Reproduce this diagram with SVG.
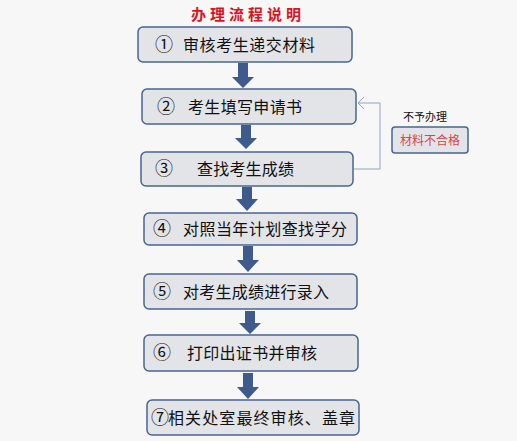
<svg xmlns="http://www.w3.org/2000/svg" width="517" height="441" viewBox="0 0 517 441">
<style>
.box{fill:#e3e4e8;stroke:#4a6491;stroke-width:1.5}
.t{font-family:"Noto Sans CJK SC","Noto Sans",sans-serif;font-size:16px;fill:#111}
.n{font-family:"Noto Sans CJK SC","DejaVu Sans",sans-serif;font-size:18px;fill:#111}
.arr{fill:#3f5b8b}
</style>
<rect width="517" height="441" fill="#f7f7f7"/>
<text x="248" y="20" text-anchor="middle" font-family="'Noto Sans CJK SC',sans-serif" font-size="15" font-weight="bold" fill="#e0111f" letter-spacing="4">办理流程说明</text>
<g id="connectors">
<polygon class="arr" points="238,63 248,63 248,77 254,77 243,88 232,77 238,77"/>
<polygon class="arr" points="241,125 251,125 251,138 257,138 246,149 235,138 241,138"/>
<polygon class="arr" points="242,187 252,187 252,199 258,199 247,211 236,199 242,199"/>
<polygon class="arr" points="243,246 253,246 253,260 259,260 248,272 237,260 243,260"/>
<polygon class="arr" points="245,311 255,311 255,323 261,323 250,334 239,323 245,323"/>
<polygon class="arr" points="243,373 253,373 253,387 259,387 248,399 237,387 243,387"/>
<polyline points="354,169 380,169 380,103 358,103" fill="none" stroke="#91a3c1" stroke-width="1"/>
<polyline points="364,97 358,103 364,109" fill="none" stroke="#91a3c1" stroke-width="1"/>
</g>
<g id="n1"><rect class="box" x="138" y="27" width="214" height="35" rx="5"/><text class="n" x="155" y="51">①</text><text class="t" x="183" y="51" textLength="132" lengthAdjust="spacing">审核考生递交材料</text></g>
<g id="n2"><rect class="box" x="142" y="89" width="214" height="35" rx="5"/><text class="n" x="157" y="113">②</text><text class="t" x="188" y="113" textLength="114" lengthAdjust="spacing">考生填写申请书</text></g>
<g id="n3"><rect class="box" x="141" y="152" width="212" height="34" rx="5"/><text class="n" x="155" y="175">③</text><text class="t" x="197" y="175" textLength="97" lengthAdjust="spacing">查找考生成绩</text></g>
<g id="n4"><rect class="box" x="144" y="213" width="213" height="32" rx="5"/><text class="n" x="153" y="235">④</text><text class="t" x="183" y="235" textLength="164" lengthAdjust="spacing">对照当年计划查找学分</text></g>
<g id="n5"><rect class="box" x="144" y="274" width="213" height="35" rx="5"/><text class="n" x="153" y="298">⑤</text><text class="t" x="183" y="298" textLength="146" lengthAdjust="spacing">对考生成绩进行录入</text></g>
<g id="n6"><rect class="box" x="144" y="335" width="214" height="36" rx="5"/><text class="n" x="153" y="359">⑥</text><text class="t" x="187" y="359" textLength="130" lengthAdjust="spacing">打印出证书并审核</text></g>
<g id="n7"><rect class="box" x="147" y="400" width="212" height="35" rx="5"/><text class="n" x="151" y="424">⑦</text><text class="t" x="168" y="424" textLength="187" lengthAdjust="spacing">相关处室最终审核、盖章</text></g>
<g id="reject">
<text x="403" y="121" font-family="'Noto Sans CJK SC',sans-serif" font-size="11" fill="#111">不予办理</text>
<rect class="box" x="392" y="127" width="76" height="26" rx="3"/>
<text x="430" y="145" text-anchor="middle" font-family="'Noto Sans CJK SC',sans-serif" font-size="12" fill="#d9434f">材料不合格</text>
</g>
</svg>
